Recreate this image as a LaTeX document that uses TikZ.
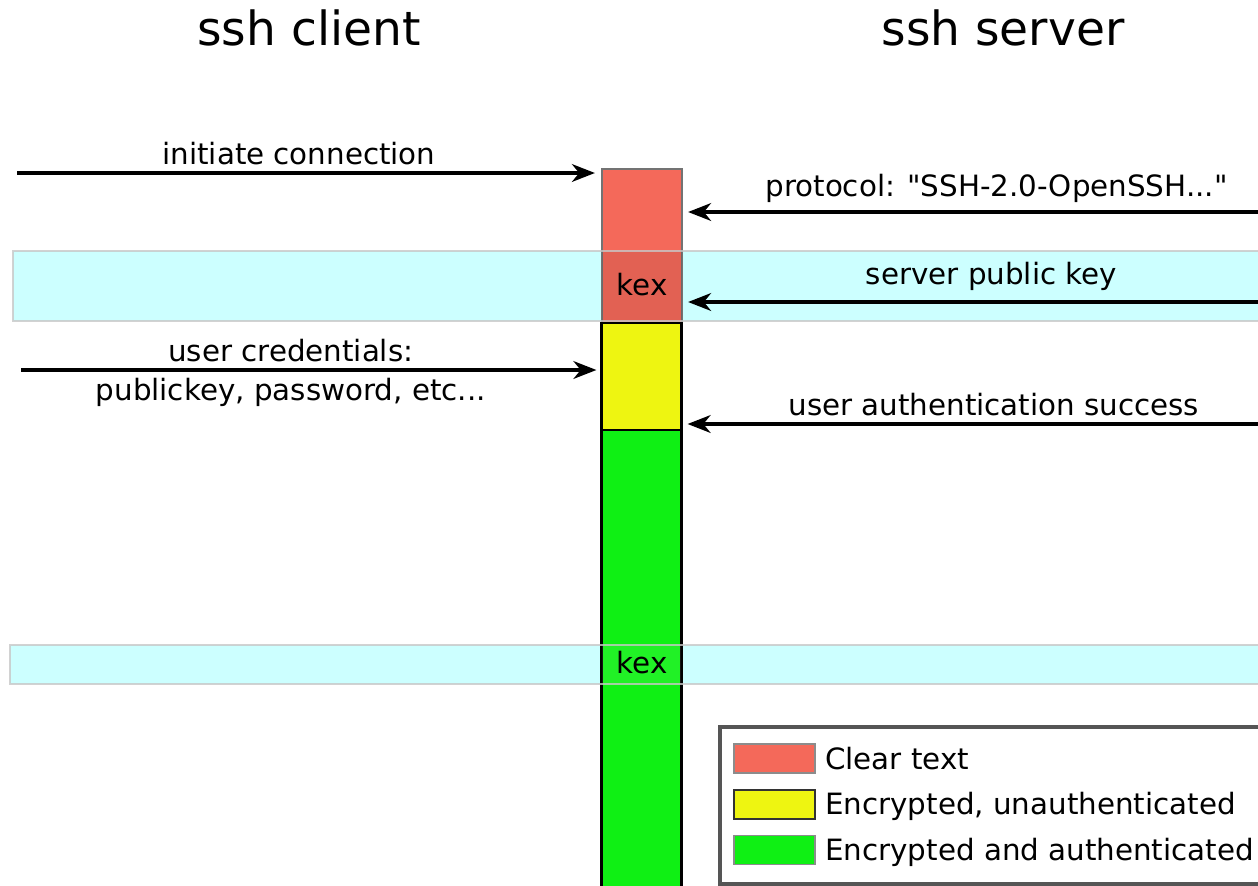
\documentclass[tikz,border=0pt]{standalone}
\usepackage{fontspec}
\setmainfont{DejaVu Sans}
\newfontfamily\plainfont{DejaVu Sans}
\usetikzlibrary{arrows.meta}
\definecolor{cleartext}{HTML}{F4695A}
\definecolor{encunauth}{HTML}{EEF511}
\definecolor{encauth}{HTML}{0FF014}
\definecolor{kexband}{HTML}{CCFFFF}
\definecolor{legendgray}{HTML}{555555}

\begin{document}
\begin{tikzpicture}[x=0.02cm,y=-0.02cm]
\tikzstyle{msg}=[line width=2.3pt,-{Stealth[length=13pt,width=10pt,inset=4pt]}]
\tikzstyle{lbl}=[font=\fontsize{16.7}{20}\selectfont]
\tikzstyle{title}=[font=\fontsize{26.8}{32}\selectfont]
\tikzstyle{phase}=[draw=black,line width=1.2pt,minimum width=1.6cm,inner sep=0pt]
\tikzstyle{swatch}=[draw=black!45,line width=0.8pt,minimum width=1.62cm,minimum height=0.58cm,inner sep=0pt]
\useasboundingbox (0,0) rectangle (1258,886);
\clip (0,0) rectangle (1258,886);
% titles
\node[title] (client) at (309,28) {ssh client};
\node[title] (server) at (1003,28) {ssh server};
% kex bands
\fill[kexband] (13,251) rectangle (1320,321);
\fill[kexband] (10,645) rectangle (1320,684);
% phases
\node[phase,fill=cleartext,draw=black!55,minimum height=3.08cm] (red) at (642,246){};
\node[phase,fill=encunauth,minimum height=2.14cm] (yellow) at (641.5,376.5){};
\node[phase,fill=encauth,minimum height=11cm] (green) at (641.5,705){};
\fill[black,opacity=0.07] (602,251) rectangle (682,321);
\fill[white,opacity=0.08] (602,645) rectangle (681,684);
\draw[black!22,line width=1.6pt,opacity=0.8] (13,251) rectangle (1320,321);
\draw[black!22,line width=1.6pt,opacity=0.8] (10,645) rectangle (1320,684);
\node[lbl] (kex1) at (642,285){kex};
\node[lbl] (kex2) at (642,663){kex};
% messages
\coordinate (c1) at (17,173);
\coordinate (c2) at (21,370);
\coordinate (s1) at (1310,212);
\coordinate (s2) at (1300,302);
\coordinate (s3) at (1305,424);
\draw[msg,shorten >=0.12cm] (c1) -- (c1 -| red.west) node[lbl,midway,above,xshift=-0.2cm] {initiate connection};
\draw[msg,shorten >=0.1cm] (s1) -- (s1 -| red.east) node[lbl,midway,above,yshift=1pt] {\plainfont protocol: "SSH-2.0-OpenSSH..."};
\draw[msg,shorten >=0.1cm] (s2) -- (s2 -| red.east) node[lbl,midway,above,yshift=2pt] {server public key};
\draw[msg,shorten >=0.08cm] (c2) -- (c2 -| yellow.west) node[lbl,midway,above,xshift=-0.4cm] {user credentials:} node[lbl,midway,below,xshift=-0.4cm] {publickey, password, etc...};
\draw[msg,shorten >=0.1cm] (s3) -- (s3 -| yellow.east) node[lbl,midway,above] {user authentication success};
% legend
\draw[line width=2.8pt,draw=legendgray,fill=white] (720,727) rectangle (1330,884);
\node[swatch,fill=cleartext] (k1) at (774.5,758.5){};
\node[swatch,fill=encunauth,draw=black!80] (k2) at (774.5,804.5){};
\node[swatch,fill=encauth] (k3) at (774.5,850){};
\node[lbl,anchor=west] (t1) at (819,759) {Clear text};
\node[lbl,anchor=west] (t2) at (819,806) {Encrypted, unauthenticated};
\node[lbl,anchor=west] (t3) at (819,852) {Encrypted and authenticated};
\end{tikzpicture}
\end{document}
